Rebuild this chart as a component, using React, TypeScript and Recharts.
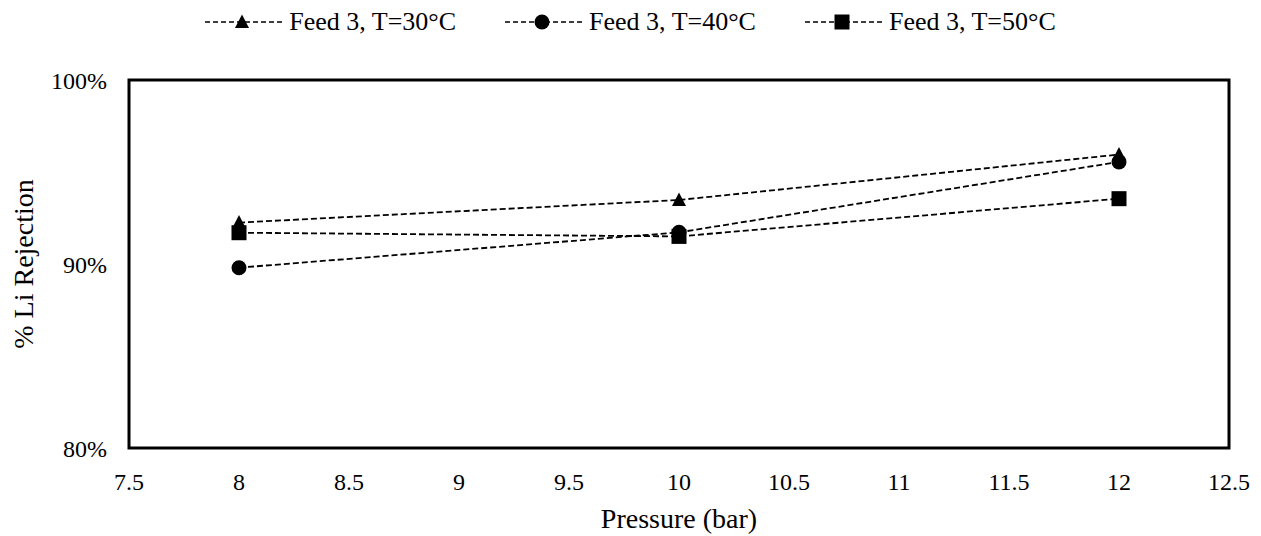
import React from "react";
import {
  Label,
  Legend,
  Line,
  LineChart,
  ReferenceArea,
  XAxis,
  YAxis,
} from "recharts";

const pressures = [8, 10, 12];
const rejection30 = [92.25, 93.48, 95.95];
const rejection40 = [89.8, 91.72, 95.55];
const rejection50 = [91.7, 91.5, 93.55];

const xTicks = [7.5, 8, 8.5, 9, 9.5, 10, 10.5, 11, 11.5, 12, 12.5];
const yTicks = [80, 90, 100];

const seriesNames = ["Feed 3, T=30°C", "Feed 3, T=40°C", "Feed 3, T=50°C"];

const FONT = '"Liberation Serif", "Times New Roman", serif';

const data = pressures.map((p, i) => ({
  pressure: p,
  t30: rejection30[i],
  t40: rejection40[i],
  t50: rejection50[i],
}));

type MarkerKind = "triangle" | "circle" | "square";

function Marker({ kind, cx, cy }: { kind: MarkerKind; cx: number; cy: number }) {
  if (kind === "triangle") {
    return (
      <polygon
        points={`${cx},${cy - 7.5} ${cx - 7},${cy + 6} ${cx + 7},${cy + 6}`}
        fill="#000"
      />
    );
  }
  if (kind === "circle") {
    return <circle cx={cx} cy={cy} r={7.5} fill="#000" />;
  }
  return <rect x={cx - 7.5} y={cy - 7.5} width={15} height={15} fill="#000" />;
}

function makeDot(kind: MarkerKind) {
  return (props: any) => {
    const { cx, cy, index } = props;
    if (cx == null || cy == null) return <g key={`${kind}-${index}`} />;
    return (
      <g key={`${kind}-${index}`}>
        <Marker kind={kind} cx={cx} cy={cy} />
      </g>
    );
  };
}

const kinds: MarkerKind[] = ["triangle", "circle", "square"];

function ChartLegend() {
  return (
    <div
      style={{
        display: "flex",
        justifyContent: "center",
        alignItems: "center",
        gap: 49,
        fontFamily: FONT,
        fontSize: 26,
        color: "#000",
        height: 40,
      }}
    >
      {seriesNames.map((name, i) => (
        <div key={name} style={{ display: "flex", alignItems: "center" }}>
          <svg width={78} height={24}>
            <line x1={0} y1={12} x2={78} y2={12} stroke="#000" strokeWidth={1.5} strokeDasharray="5 3" />
            <Marker kind={kinds[i]} cx={37} cy={12} />
          </svg>
          <span style={{ marginLeft: 6, whiteSpace: "nowrap" }}>{name}</span>
        </div>
      ))}
    </div>
  );
}

function YTitle(props: any) {
  const vb = props.viewBox || {};
  const x = (vb.x ?? 0) + 33;
  const y = (vb.y ?? 0) + (vb.height ?? 0) / 2;
  return (
    <text
      x={x}
      y={y}
      transform={`rotate(-90 ${x} ${y})`}
      textAnchor="middle"
      fontFamily={FONT}
      fontSize={28}
      fill="#000"
    >
      % Li Rejection
    </text>
  );
}

export default function App() {
  return (
    <div style={{ position: "absolute", left: 0, top: 0, background: "#fff" }}>
      <LineChart
        width={1261}
        height={536}
        data={data}
        margin={{ top: 40, right: 32, left: 0, bottom: 0 }}
      >
        <Legend
          verticalAlign="top"
          align="center"
          height={40}
          wrapperStyle={{ top: 2, left: 0, width: 1261 }}
          content={() => <ChartLegend />}
        />
        <XAxis
          dataKey="pressure"
          type="number"
          domain={[7.5, 12.5]}
          ticks={xTicks}
          interval={0}
          height={88}
          axisLine={false}
          tickLine={false}
          tickSize={0}
          tickMargin={25}
          tick={{ fontSize: 24, fill: "#000", fontFamily: FONT }}
        >
          <Label
            value="Pressure (bar)"
            position="insideBottom"
            offset={8}
            style={{ fontSize: 28, fill: "#000", fontFamily: FONT }}
          />
        </XAxis>
        <YAxis
          type="number"
          domain={[80, 100]}
          ticks={yTicks}
          interval={0}
          width={129}
          axisLine={false}
          tickLine={false}
          tickSize={0}
          tickMargin={22}
          tickFormatter={(v: number) => `${v}%`}
          tick={{ fontSize: 24, fill: "#000", fontFamily: FONT }}
        >
          <Label content={YTitle} />
        </YAxis>
        <ReferenceArea
          x1={7.5}
          x2={12.5}
          y1={80}
          y2={100}
          fill="none"
          fillOpacity={0}
          stroke="#000"
          strokeWidth={3}
          ifOverflow="visible"
        />
        <Line
          dataKey="t30"
          name={seriesNames[0]}
          stroke="#000"
          strokeWidth={1.8}
          strokeDasharray="6 3"
          dot={makeDot("triangle")}
          activeDot={false}
          isAnimationActive={false}
        />
        <Line
          dataKey="t40"
          name={seriesNames[1]}
          stroke="#000"
          strokeWidth={1.8}
          strokeDasharray="6 3"
          dot={makeDot("circle")}
          activeDot={false}
          isAnimationActive={false}
        />
        <Line
          dataKey="t50"
          name={seriesNames[2]}
          stroke="#000"
          strokeWidth={1.8}
          strokeDasharray="6 3"
          dot={makeDot("square")}
          activeDot={false}
          isAnimationActive={false}
        />
      </LineChart>
    </div>
  );
}
